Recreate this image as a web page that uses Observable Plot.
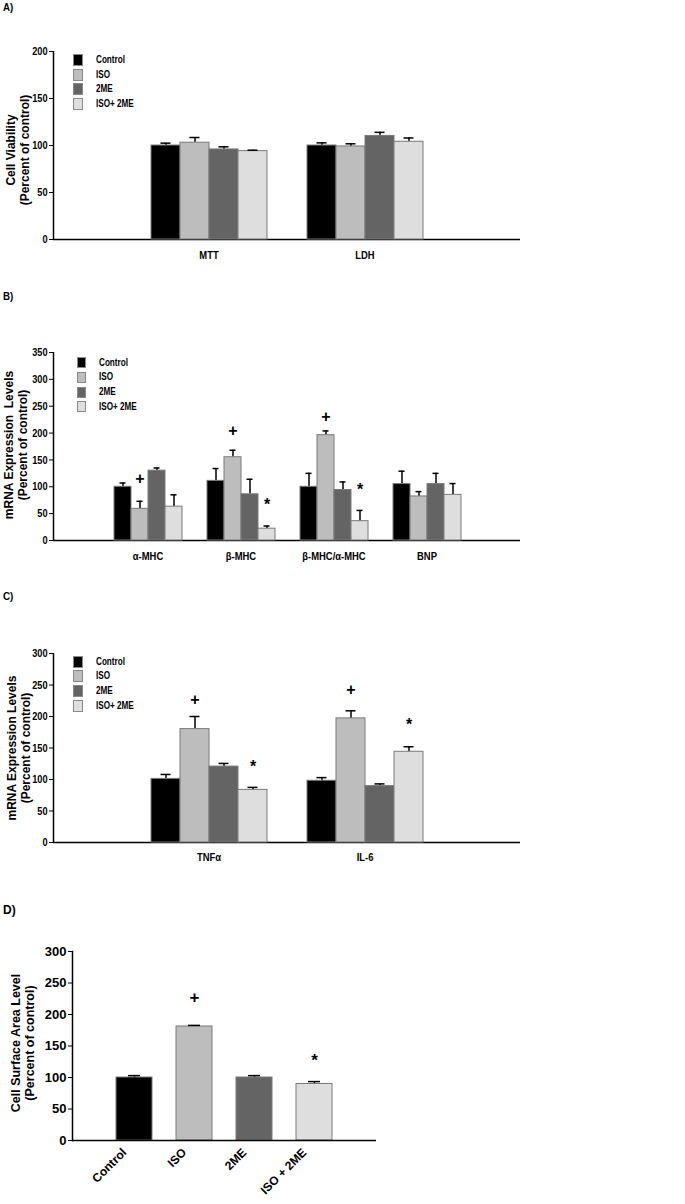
<!DOCTYPE html>
<html><head><meta charset="utf-8">
<script src="https://cdn.jsdelivr.net/npm/d3@7"></script>
<script src="https://cdn.jsdelivr.net/npm/@observablehq/plot@0.6"></script>
<style>
body{margin:0;background:#fff;}
#root{position:relative;width:685px;height:1204px;background:#fff;overflow:hidden;}
#root svg{position:absolute;left:0;}
.abs{position:absolute;white-space:nowrap;}
</style></head><body><div id="root"></div>
<script>
const FONT = '"Liberation Sans",Arial,sans-serif';

// ---------- data ----------
const groups = ["Control", "ISO", "2ME", "ISO+ 2ME"];
const fills = ["#000000", "#bdbdbd", "#646464", "#dedede"];

// Panel A: cell viability
const aCats = ["MTT", "LDH"];
const aMean = [[100, 103, 95.8, 94], [100, 99, 110.2, 104]];
const aSem = [[2.5, 5.5, 2.8, 1], [2.8, 2.8, 3.8, 4]];
const aTicks = [0, 50, 100, 150, 200];
const aMarks = [];

// Panel B: hypertrophic markers
const bCats = ["α-MHC", "β-MHC", "β-MHC/α-MHC", "BNP"];
const bMean = [[100, 59, 130, 63], [111, 155, 86, 22], [100, 196, 94, 36], [105, 82, 105, 85]];
const bSem = [[7, 14, 5, 22], [23, 13, 28, 5], [25, 8, 15, 20], [24, 9, 20, 21]];
const bTicks = [0, 50, 100, 150, 200, 250, 300, 350];
const bMarks = [
  {cat: "α-MHC", group: "ISO", y: 115, sym: "+"},
  {cat: "β-MHC", group: "ISO", y: 204, sym: "+"},
  {cat: "β-MHC/α-MHC", group: "ISO", y: 230, sym: "+"},
  {cat: "β-MHC", group: "ISO+ 2ME", y: 74, sym: "*"},
  {cat: "β-MHC/α-MHC", group: "ISO+ 2ME", y: 101, sym: "*"}
];

// Panel C: inflammatory markers
const cCats = ["TNFα", "IL-6"];
const cMean = [[101, 180, 120.5, 83.5], [98, 197, 89.5, 144]];
const cSem = [[7, 20, 5, 4], [5, 12, 3.5, 8]];
const cTicks = [0, 50, 100, 150, 200, 250, 300];
const cMarks = [
  {cat: "TNFα", group: "ISO", y: 227, sym: "+"},
  {cat: "TNFα", group: "ISO+ 2ME", y: 126, sym: "*"},
  {cat: "IL-6", group: "ISO", y: 243, sym: "+"},
  {cat: "IL-6", group: "ISO+ 2ME", y: 193, sym: "*"}
];

// Panel D: cell surface area
const dGroups = ["Control", "ISO", "2ME", "ISO + 2ME"];
const dMean = [100, 181, 100, 89.7];
const dSem = [3, 1.7, 3, 3.8];
const dTicks = [0, 50, 100, 150, 200, 250, 300];
const dMarks = [
  {group: "ISO", y: 227.6, sym: "+"},
  {group: "ISO + 2ME", y: 133.6, sym: "*"}
];

// ---------- helpers ----------
const root = document.getElementById("root");
function place(svg, top) { svg.style.top = top + "px"; root.appendChild(svg); }
// condense axis tick labels horizontally (original uses a narrow bold face)
function condense(svg, k) {
  svg.querySelectorAll('[aria-label$="tick label"] text').forEach(t => {
    const tr = t.getAttribute("transform") || "";
    t.setAttribute("transform", tr + ` scale(${k},1)`);
  });
}
function html(text, css) {
  const d = document.createElement("div");
  d.className = "abs"; d.innerHTML = text; Object.assign(d.style, css); root.appendChild(d); return d;
}
function yTitle(lines, cx, cy, lh, size) {
  html(lines.join("<br>"), {left: cx + "px", top: cy + "px", transform: "translate(-50%,-50%) rotate(-90deg)",
    textAlign: "center", lineHeight: lh + "px", font: `bold ${size}px ${FONT}`, color: "#000"});
}
function legend(centers, sqLeft, sqW, sqH, labLeft) {
  groups.forEach((g, i) => {
    html("", {left: sqLeft + "px", top: (centers[i] - sqH / 2) + "px", width: sqW + "px", height: sqH + "px",
      background: fills[i], boxSizing: "border-box", border: "1px solid #8a8a8a"});
    html(g, {left: labLeft + "px", top: (centers[i] - 7) + "px", lineHeight: "14px", font: `bold 11px ${FONT}`,
      color: "#000", transform: "scaleX(0.74)", transformOrigin: "0 50%"});
  });
}
function label(text, top) {
  html(text, {left: "3px", top: top + "px", font: `bold 11.5px ${FONT}`, transform: "scaleX(0.85)", transformOrigin: "0 50%"});
}
const tStyle = {background: "transparent", fontFamily: FONT, fontWeight: "bold", fontSize: "11.5px", color: "#000", overflow: "visible"};

function grouped(o) {
  const rows = o.cats.flatMap((cat, i) => groups.map((g, j) => ({cat, group: g, value: o.mean[i][j], sem: o.sem[i][j]})));
  const common = {width: 685, height: o.height, marginTop: o.mt, marginBottom: o.mb, marginLeft: 53, marginRight: 165, style: tStyle};
  const axes = Plot.plot({
    ...common,
    x: {domain: [0, 1], axis: null},
    y: {domain: [0, o.ymax], ticks: o.ticks, tickSize: 4, tickPadding: 2, label: null, tickFormat: d => d},
    marks: [
      Plot.ruleX([0], {y1: 0, y2: o.ymax, strokeWidth: 1.5}),
      Plot.ruleY([0], {strokeWidth: 1.5})
    ]
  });
  const bars = Plot.plot({
    ...common,
    fx: {domain: o.cats, paddingInner: o.pi, paddingOuter: o.po, tickSize: 0, tickPadding: o.lp, label: null},
    x: {domain: groups, padding: 0, axis: null},
    y: {domain: [0, o.ymax], axis: null},
    color: {domain: groups, range: fills},
    marks: [
      Plot.ruleX(rows, {fx: "cat", x: "group", y1: "value", y2: d => d.value + d.sem, strokeWidth: 1.5}),
      Plot.barY(rows, {fx: "cat", x: "group", y1: 0, y2: "value", fill: "group", stroke: "#7a7a7a", strokeWidth: 1}),
      Plot.tickY(rows, {fx: "cat", x: "group", y: d => d.value + d.sem, insetLeft: o.cap, insetRight: o.cap, strokeWidth: 1.5}),
      Plot.text(o.marks.filter(d => d.sym === "+"), {fx: "cat", x: "group", y: "y", text: "sym", fontSize: 16, fontWeight: "bold"}),
      Plot.text(o.marks.filter(d => d.sym === "*"), {fx: "cat", x: "group", y: "y", text: "sym", fontSize: 16, fontWeight: "bold", dy: 4})
    ]
  });
  condense(axes, 0.8); condense(bars, 0.82);
  place(axes, o.top); place(bars, o.top);
}

// ---------- panel A ----------
grouped({top: 0, height: 300, mt: 51, mb: 61, cats: aCats, mean: aMean, sem: aSem, ymax: 200, ticks: aTicks,
  pi: 0.25, po: 0.62, lp: 11, cap: 9.5, marks: aMarks});
legend([60, 74.5, 89, 103.5], 73, 10, 12, 96);
yTitle(["Cell Viability", "(Percent of control)"], 18, 150, 11, 12);
label("A)", 1);

// ---------- panel B ----------
grouped({top: 300, height: 300, mt: 52, mb: 60, cats: bCats, mean: bMean, sem: bSem, ymax: 350, ticks: bTicks,
  pi: 0.24, po: 0.62, lp: 11, cap: 5.5, marks: bMarks});
legend([362.7, 377.3, 392, 406.7], 77, 8.5, 11, 99);
yTitle(["mRNA Expression&nbsp; Levels", "(Percent of control)"], 16, 445, 13, 12);
label("B)", 290);

// ---------- panel C ----------
grouped({top: 600, height: 280, mt: 53, mb: 38, cats: cCats, mean: cMean, sem: cSem, ymax: 300, ticks: cTicks,
  pi: 0.25, po: 0.62, lp: 10, cap: 9.5, marks: cMarks});
legend([662, 676.3, 691, 705.7], 73, 9.5, 12, 96);
yTitle(["mRNA Expression Levels", "(Percent of control)"], 19, 748, 13, 12);
label("C)", 590);

// ---------- panel D ----------
{
  const rows = dGroups.map((g, i) => ({group: g, value: dMean[i], sem: dSem[i]}));
  const svg = Plot.plot({
    width: 685, height: 324, marginTop: 71, marginBottom: 64, marginLeft: 72, marginRight: 309,
    style: {...tStyle, fontSize: "13px"},
    x: {domain: dGroups, paddingInner: 0.4, paddingOuter: 0.7, axis: null},
    y: {domain: [0, 300], ticks: dTicks, tickSize: 4, tickPadding: 2, label: null, tickFormat: d => d},
    color: {domain: dGroups, range: fills},
    marks: [
      Plot.frame({anchor: "left", strokeWidth: 1.5}),
      Plot.ruleX(rows, {x: "group", y1: "value", y2: d => d.value + d.sem, strokeWidth: 1.5}),
      Plot.barY(rows, {x: "group", y1: 0, y2: "value", fill: "group", stroke: "#7a7a7a", strokeWidth: 1}),
      Plot.tickY(rows, {x: "group", y: d => d.value + d.sem, insetLeft: 12, insetRight: 12, strokeWidth: 1.5}),
      Plot.ruleY([0], {strokeWidth: 1.5}),
      Plot.axisX({tickRotate: -45, tickSize: 0, tickPadding: 6, fontSize: 12, label: null, dx: -10, dy: 4}),
      Plot.text(dMarks.filter(d => d.sym === "+"), {x: "group", y: "y", text: "sym", fontSize: 17, fontWeight: "bold"}),
      Plot.text(dMarks.filter(d => d.sym === "*"), {x: "group", y: "y", text: "sym", fontSize: 17, fontWeight: "bold", dy: 4})
    ]
  });
  place(svg, 880);
  yTitle(["Cell Surface Area Level", "(Percent of control)"], 23, 1043, 15, 12.5);
  html("D)", {left: "3px", top: "903px", font: `bold 12px ${FONT}`});
}
</script></body></html>
